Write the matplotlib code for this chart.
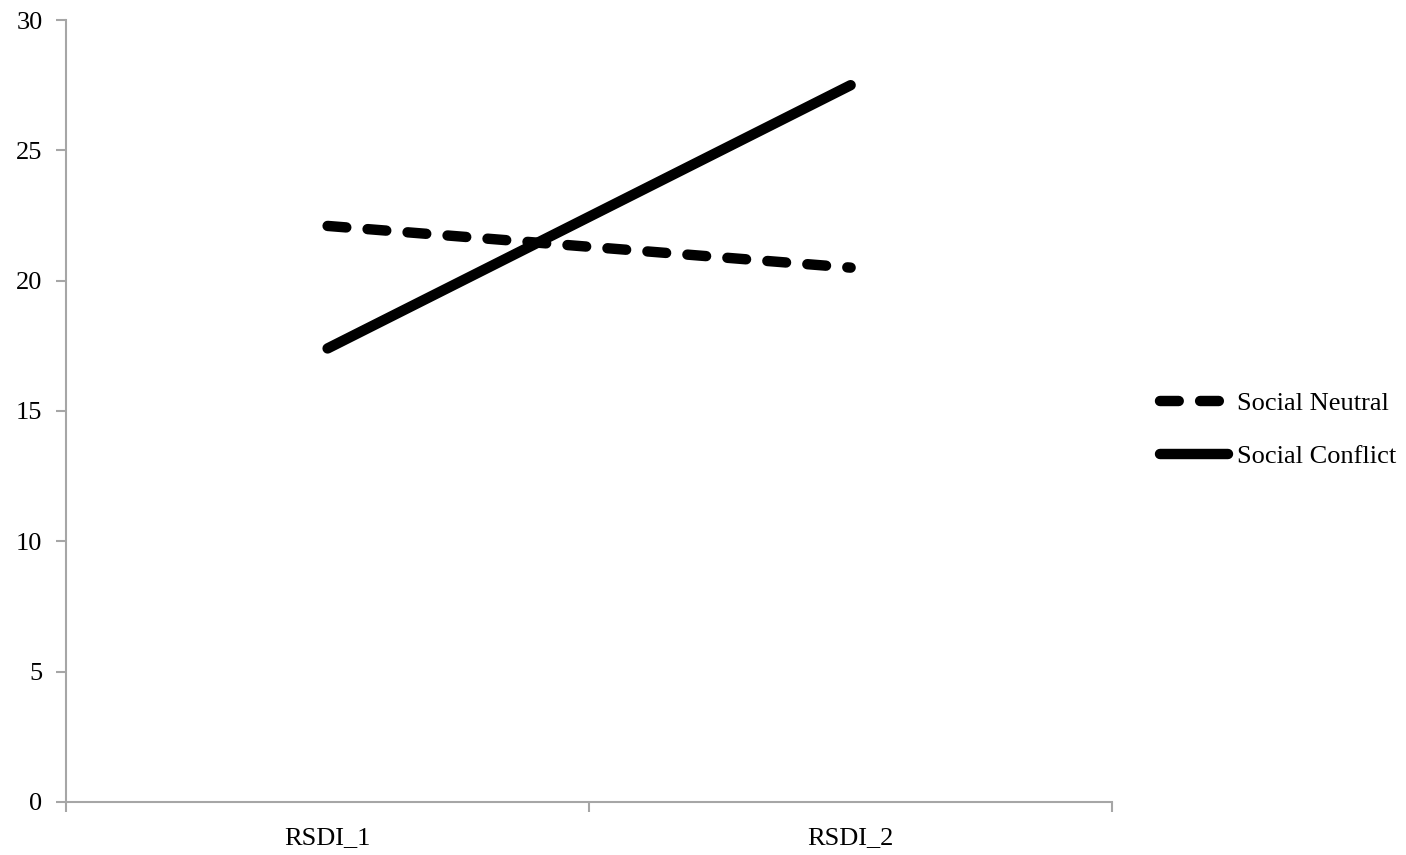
import matplotlib.pyplot as plt

categories = ["RSDI_1", "RSDI_2"]
social_neutral = [22.1, 20.5]
social_conflict = [17.4, 27.5]

plt.rcParams['font.family'] = ['Liberation Serif', 'DejaVu Serif']

fig = plt.figure(figsize=(14.06, 8.55), dpi=100)
ax = fig.add_axes([0.047, 0.062, 0.744, 0.9146])

x = range(len(categories))
ax.plot(x, social_neutral, color='black', linewidth=7.5, linestyle=(0, (1.8, 2.05)),
        dash_capstyle='round', solid_capstyle='round', label="Social Neutral")
ax.plot(x, social_conflict, color='black', linewidth=7.5,
        solid_capstyle='round', label="Social Conflict")

ax.set_xlim(-0.5, 1.5)
ax.set_ylim(0, 30)
ax.set_yticks(range(0, 31, 5))
ax.set_xticks(list(x))
ax.set_xticklabels(categories)
ax.set_xticks([-0.5, 0.5, 1.5], minor=True)

axis_grey = '#a6a6a6'
for side in ['top', 'right']:
    ax.spines[side].set_visible(False)
for side in ['left', 'bottom']:
    ax.spines[side].set_color(axis_grey)
    ax.spines[side].set_linewidth(1.5)

ax.tick_params(axis='y', length=7, width=1.5, color=axis_grey, labelsize=19, pad=10)
ax.tick_params(axis='x', which='major', length=0, labelsize=19, pad=18)
ax.tick_params(axis='x', which='minor', length=7, width=1.5, color=axis_grey)

fig.legend(loc='center left', bbox_to_anchor=(0.825, 0.497), frameon=False,
           fontsize=19, handlelength=2.58, handletextpad=0.35, labelspacing=1.12,
           borderpad=0, borderaxespad=0)

fig.savefig("out.png", dpi=100)
